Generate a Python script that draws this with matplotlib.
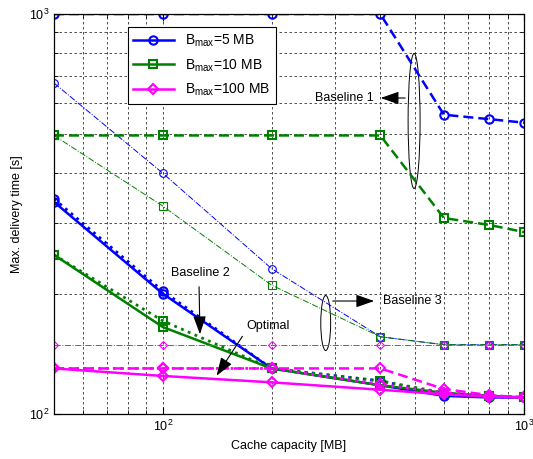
import matplotlib
matplotlib.use("Agg")
import matplotlib.pyplot as plt
from matplotlib.patches import Ellipse
from matplotlib.ticker import NullFormatter

plt.rcParams["font.family"] = ["Liberation Sans", "DejaVu Sans"]
plt.rcParams["mathtext.fontset"] = "custom"
plt.rcParams["mathtext.rm"] = "Liberation Sans"
plt.rcParams["mathtext.it"] = "Liberation Sans:italic"
plt.rcParams["mathtext.default"] = "regular"

cache = [50, 100, 200, 400, 600, 800, 1000]   # MB
labels = [r"B$_{max}$=5 MB", r"B$_{max}$=10 MB", r"B$_{max}$=100 MB"]
colors = ["#0000ff", "#008000", "#ff00ff"]
markers = ["o", "s", "D"]

# max delivery time [s] per scheme, rows: Bmax = 5, 10, 100 MB
base1 = [
    [1000, 1000, 1000, 1000, 560, 546, 535],
    [497, 497, 497, 497, 309, 297, 285],
    [130, 130, 130, 130, 115.5, 111.5, 110],
]
base2 = [
    [345, 203, 130, 121, 112, 110.5, 110],
    [250, 171, 130, 121, 113, 111, 110],
    [130, 130, 130, 118.6, 113, 111, 110],
]
base3 = [
    [672, 400, 231, 156, 149, 149, 149],
    [497, 331, 210, 156, 149, 149, 149],
    [149, 149, 149, 149, 149, 149, 149],
]
optimal = [
    [339, 200, 130, 118, 111, 110, 110],
    [250, 165, 130, 118, 113, 111, 110],
    [130, 124.5, 120, 115, 112, 110.5, 110],
]

fig = plt.figure(figsize=(5.33, 4.59), dpi=100)
ax = fig.add_axes([0.1013, 0.098, 0.882, 0.8715])

handles = []
for i in range(3):
    c, m = colors[i], markers[i]
    ms = 5 if m == "D" else 6
    ax.plot(cache, base3[i], color=c, ls="-.", lw=0.7, marker=m, ms=ms - 0.5,
            mfc="none", mew=0.8)
    ax.plot(cache, base1[i], color=c, ls="--", lw=1.8, marker=m, ms=ms,
            mfc="none", mew=1.5, dashes=(4, 2))
    ax.plot(cache, base2[i], color=c, ls=":", lw=2.0, marker=m, ms=ms,
            mfc="none", mew=1.5)
    h, = ax.plot(cache, optimal[i], color=c, ls="-", lw=1.8, marker=m, ms=ms,
                 mfc="none", mew=1.5, label=labels[i])
    handles.append(h)

ax.set_xscale("log")
ax.set_yscale("log")
ax.set_xlim(50, 1000)
ax.set_ylim(100, 1000)
ax.yaxis.set_minor_formatter(NullFormatter())
ax.xaxis.set_minor_formatter(NullFormatter())
ax.grid(True, which="both", color="k", ls=(0, (3, 3)), lw=0.6, alpha=0.8)
ax.tick_params(which="both", direction="in", top=True, right=True, labelsize=9)
ax.tick_params(which="major", length=5)
ax.tick_params(which="minor", length=3)
for s in ax.spines.values():
    s.set_linewidth(0.9)

ax.set_xlabel("Cache capacity [MB]", fontsize=9)
ax.set_ylabel("Max. delivery time [s]", fontsize=9)

leg = ax.legend(handles=handles, loc="upper left", bbox_to_anchor=(0.157, 0.9675),
                fontsize=10, fancybox=False, edgecolor="k", framealpha=1,
                handlelength=2.9, labelspacing=0.6, borderaxespad=0)
leg.get_frame().set_linewidth(0.8)

arrow = dict(arrowstyle="-|>,head_length=0.8,head_width=0.28", color="k",
             lw=0.8, mutation_scale=14)
tr = ax.transAxes

# Baseline 1
ax.add_patch(Ellipse((0.766, 0.7325), 0.0255, 0.3375, transform=tr,
                     fill=False, ec="k", lw=0.7))
ax.annotate("", xy=(0.689, 0.79), xytext=(0.753, 0.79), xycoords=tr,
            textcoords=tr, arrowprops=arrow)
ax.text(0.681, 0.79, "Baseline 1", transform=tr, ha="right", va="center", fontsize=9)

# Baseline 3
ax.add_patch(Ellipse((0.578, 0.2275), 0.021, 0.1375, transform=tr,
                     fill=False, ec="k", lw=0.7))
ax.annotate("", xy=(0.687, 0.2825), xytext=(0.587, 0.2825), xycoords=tr,
            textcoords=tr, arrowprops=arrow)
ax.text(0.70, 0.2825, "Baseline 3", transform=tr, ha="left", va="center", fontsize=9)

# Baseline 2
ax.text(0.311, 0.352, "Baseline 2", transform=tr, ha="center", va="center", fontsize=9)
ax.annotate("", xy=(0.3106, 0.1925), xytext=(0.3085, 0.325), xycoords=tr,
            textcoords=tr, arrowprops=arrow)

# Optimal
ax.text(0.455, 0.22, "Optimal", transform=tr, ha="center", va="center", fontsize=9)
ax.annotate("", xy=(0.3426, 0.09), xytext=(0.404, 0.2), xycoords=tr,
            textcoords=tr, arrowprops=arrow)

fig.savefig("out.png", dpi=100)
